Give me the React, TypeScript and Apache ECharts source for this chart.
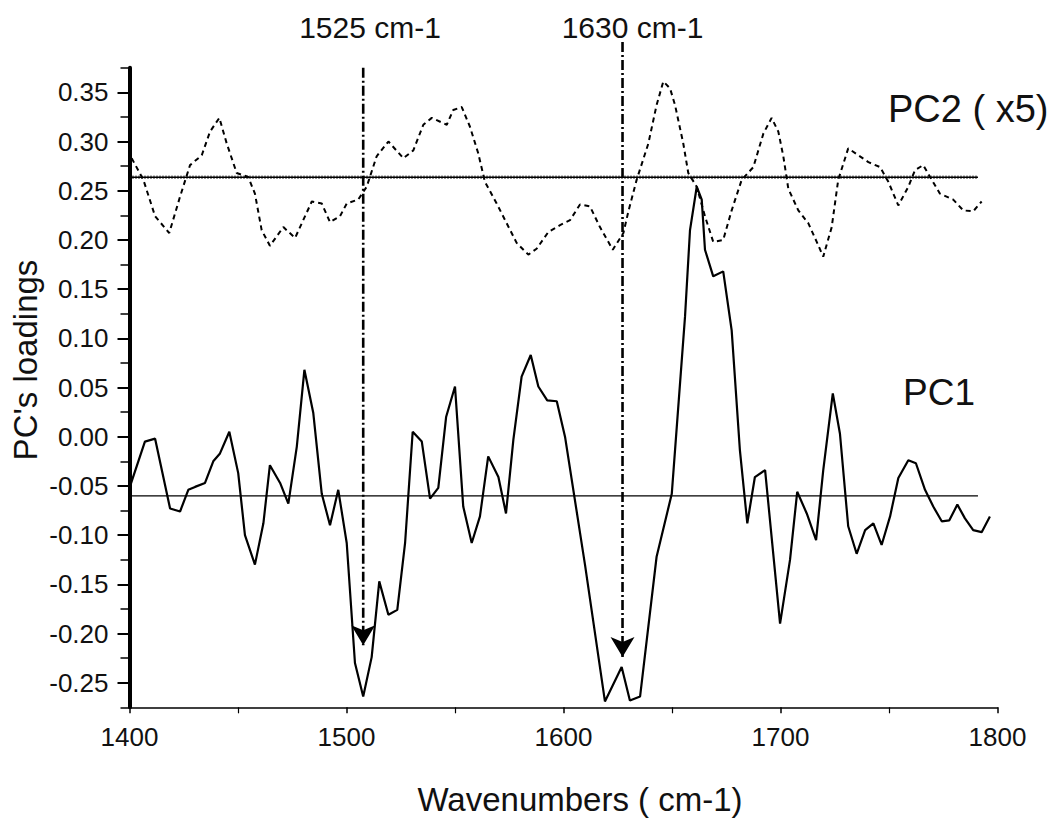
import React, { useEffect, useRef } from "react";
import * as echarts from "echarts";

// Wavenumbers (cm-1) and loadings
const pc1X = [1400, 1407.1, 1411.8, 1418.7, 1423.3, 1427.1, 1430.2, 1434.8, 1438.6, 1441.7, 1446.0, 1450.1, 1453.2, 1457.8, 1461.7, 1464.7, 1469.4, 1473.2, 1477.1, 1480.6, 1484.7, 1488.6, 1492.4, 1496.2, 1500.1, 1503.9, 1507.7, 1511.6, 1515.1, 1519.3, 1523.4, 1527.0, 1530.5, 1534.7, 1538.5, 1542.3, 1545.9, 1550.0, 1553.8, 1557.7, 1561.5, 1565.3, 1570.0, 1573.5, 1576.9, 1580.7, 1584.9, 1588.4, 1592.5, 1596.9, 1600.7, 1609.9, 1619.1, 1626.8, 1630.6, 1635.3, 1642.9, 1649.9, 1656.0, 1658.3, 1661.4, 1663.7, 1665.2, 1669.0, 1673.6, 1677.5, 1681.3, 1684.7, 1688.2, 1692.9, 1699.8, 1704.4, 1707.7, 1712.1, 1716.4, 1719.7, 1724.1, 1727.4, 1731.2, 1735.1, 1739.0, 1742.8, 1746.6, 1750.5, 1754.3, 1758.9, 1762.4, 1766.6, 1770.4, 1774.3, 1777.8, 1781.5, 1785.0, 1788.8, 1792.7, 1796.5];
const pc1Y = [-0.052, -0.005, -0.002, -0.073, -0.076, -0.054, -0.051, -0.047, -0.025, -0.017, 0.005, -0.037, -0.100, -0.130, -0.088, -0.029, -0.047, -0.068, -0.010, 0.068, 0.024, -0.058, -0.090, -0.054, -0.108, -0.230, -0.264, -0.224, -0.147, -0.181, -0.176, -0.108, 0.005, -0.005, -0.063, -0.052, 0.020, 0.051, -0.071, -0.108, -0.081, -0.020, -0.041, -0.078, -0.003, 0.061, 0.083, 0.051, 0.037, 0.036, 0.000, -0.130, -0.269, -0.234, -0.268, -0.264, -0.122, -0.058, 0.122, 0.210, 0.254, 0.241, 0.190, 0.163, 0.168, 0.108, -0.014, -0.088, -0.041, -0.034, -0.190, -0.125, -0.056, -0.078, -0.105, -0.034, 0.044, 0.003, -0.091, -0.119, -0.095, -0.088, -0.110, -0.081, -0.042, -0.024, -0.027, -0.054, -0.071, -0.086, -0.085, -0.069, -0.083, -0.095, -0.097, -0.081];

const pc2X = [1401.0, 1406.4, 1411.8, 1418.3, 1423.3, 1427.9, 1433.3, 1437.1, 1441.4, 1444.8, 1449.4, 1454.7, 1457.8, 1460.9, 1464.7, 1470.9, 1476.3, 1484.0, 1488.6, 1492.4, 1497.0, 1500.1, 1505.4, 1509.3, 1513.9, 1519.3, 1526.2, 1530.8, 1535.4, 1539.3, 1546.2, 1549.2, 1553.1, 1556.9, 1560.7, 1563.8, 1569.2, 1573.8, 1578.4, 1583.8, 1587.6, 1593.0, 1598.4, 1603.0, 1607.6, 1612.2, 1616.8, 1622.7, 1627.6, 1629.9, 1633.7, 1639.1, 1642.9, 1646.0, 1649.1, 1651.4, 1655.2, 1657.5, 1661.4, 1665.2, 1669.0, 1673.6, 1677.5, 1682.1, 1687.5, 1692.1, 1695.9, 1699.0, 1701.3, 1703.6, 1708.2, 1712.8, 1716.7, 1719.7, 1723.6, 1726.6, 1731.2, 1735.9, 1740.5, 1745.9, 1749.7, 1754.3, 1758.9, 1762.0, 1765.8, 1768.9, 1773.5, 1779.6, 1784.2, 1788.8, 1792.7];
const pc2Y = [0.283, 0.261, 0.224, 0.207, 0.244, 0.276, 0.286, 0.310, 0.324, 0.298, 0.268, 0.264, 0.247, 0.210, 0.194, 0.213, 0.202, 0.239, 0.237, 0.218, 0.224, 0.237, 0.241, 0.254, 0.285, 0.300, 0.283, 0.291, 0.317, 0.324, 0.317, 0.332, 0.335, 0.315, 0.288, 0.259, 0.237, 0.217, 0.197, 0.185, 0.191, 0.208, 0.215, 0.220, 0.236, 0.234, 0.213, 0.190, 0.207, 0.229, 0.261, 0.298, 0.337, 0.361, 0.354, 0.337, 0.298, 0.268, 0.254, 0.224, 0.198, 0.200, 0.230, 0.261, 0.274, 0.308, 0.324, 0.310, 0.285, 0.252, 0.230, 0.217, 0.198, 0.183, 0.213, 0.261, 0.293, 0.286, 0.279, 0.274, 0.259, 0.235, 0.254, 0.271, 0.276, 0.264, 0.247, 0.241, 0.230, 0.229, 0.239];

// Horizontal reference lines (PC2 baseline, PC1 baseline)
const baselineValues = [0.2636, -0.0602];
const baselineSpan = [1400, 1791];

// Marked bands: line position, top, arrow tip, label
const markerX = [1507.7, 1627.2];
const markerTop = [0.375, 0.401];
const markerTip = [-0.212, -0.224];
const markerLabels = ["1525 cm-1", "1630 cm-1"];

// Axis ticks
const yMajorTicks = [-0.25, -0.2, -0.15, -0.1, -0.05, 0, 0.05, 0.1, 0.15, 0.2, 0.25, 0.3, 0.35];
const yMinorTicks = [-0.275, -0.225, -0.175, -0.125, -0.075, -0.025, 0.025, 0.075, 0.125, 0.175, 0.225, 0.275, 0.325, 0.375];

const FONT = "'Liberation Sans', Arial, sans-serif";

export default function App() {
  const ref = useRef<HTMLDivElement>(null);

  useEffect(() => {
    if (!ref.current) return;
    const chart = echarts.init(ref.current, null, { renderer: "svg" });

    const pc1 = pc1X.map((x, i) => [x, pc1Y[i]]);
    const pc2 = pc2X.map((x, i) => [x, pc2Y[i]]);
    const base2 = baselineSpan.map((x) => [x, baselineValues[0]]);
    const base1 = baselineSpan.map((x) => [x, baselineValues[1]]);

    const markerSeries = markerX.map((x, i) => ({
      name: "marker " + markerLabels[i],
      type: "line",
      data: [
        [x, markerTop[i]],
        [x, markerTip[i]],
      ],
      symbol: "none",
      silent: true,
      clip: false,
      lineStyle: { color: "#000", width: 2.6, type: [10, 3, 2, 3] },
      z: 5,
      markPoint: {
        silent: true,
        symbol: "arrow",
        symbolSize: [18, 20],
        symbolRotate: 180,
        symbolOffset: [0, 0],
        label: { show: false },
        itemStyle: { color: "#000" },
        data: [{ coord: [x, markerTip[i]] }],
      },
    }));

    const option: any = {
      animation: false,
      backgroundColor: "#ffffff",
      grid: { left: 129.5, right: 62.5, top: 67.7, bottom: 114.7, containLabel: false },
      xAxis: {
        type: "value",
        min: 1400,
        max: 1800,
        interval: 100,
        axisLine: { show: true, onZero: false, lineStyle: { color: "#000", width: 1.6 } },
        axisTick: { show: true, length: 6, lineStyle: { color: "#000", width: 1.5 } },
        minorTick: { show: true, splitNumber: 2, length: 6, lineStyle: { color: "#000", width: 1.2 } },
        splitLine: { show: false },
        minorSplitLine: { show: false },
        axisLabel: {
          color: "#111",
          fontSize: 26,
          fontFamily: FONT,
          margin: 17,
          formatter: (v: number) => String(v),
        },
      },
      yAxis: [
        {
          type: "value",
          min: -0.275,
          max: 0.375,
          position: "left",
          axisLine: { show: true, onZero: false, lineStyle: { color: "#000", width: 4 } },
          axisTick: { show: true, length: 12, customValues: yMajorTicks, lineStyle: { color: "#000", width: 2 } },
          axisLabel: {
            customValues: yMajorTicks,
            formatter: (v: number) => v.toFixed(2),
            color: "#111",
            fontSize: 26,
            fontFamily: FONT,
            margin: 21,
          },
          splitLine: { show: false },
        },
        {
          type: "value",
          min: -0.275,
          max: 0.375,
          position: "left",
          axisLine: { show: false, onZero: false },
          axisTick: { show: true, length: 9, customValues: yMinorTicks, lineStyle: { color: "#000", width: 1.5 } },
          axisLabel: { show: false },
          splitLine: { show: false },
        },
      ],
      series: [
        {
          name: "PC2 baseline",
          type: "line",
          data: base2,
          symbol: "none",
          silent: true,
          lineStyle: { color: "#000", width: 1.5 },
          z: 2,
        },
        {
          name: "PC2 baseline dots",
          type: "line",
          data: base2,
          symbol: "none",
          silent: true,
          lineStyle: { color: "#000", width: 3.5, type: [1, 2], opacity: 0.85 },
          z: 2,
        },
        {
          name: "PC1 baseline",
          type: "line",
          data: base1,
          symbol: "none",
          silent: true,
          lineStyle: { color: "#000", width: 1.2 },
          z: 2,
        },
        {
          name: "PC2 (x5)",
          type: "line",
          data: pc2,
          symbol: "none",
          lineStyle: { color: "#000", width: 2, type: [5, 4] },
          z: 3,
        },
        {
          name: "PC1",
          type: "line",
          data: pc1,
          symbol: "none",
          lineStyle: { color: "#000", width: 2.2 },
          z: 4,
        },
        ...markerSeries,
      ],
      graphic: [
        ...markerLabels.map((t, i) => ({
          type: "text",
          x: i === 0 ? 370 : 632.5,
          y: 27.5,
          style: { text: t, fontSize: 30, fontFamily: FONT, fill: "#111", textAlign: "center", textVerticalAlign: "middle" },
        })),
        {
          type: "text",
          x: 888,
          y: 109,
          style: { text: "PC2 ( x5)", fontSize: 38, fontFamily: FONT, fill: "#111", textAlign: "left", textVerticalAlign: "middle" },
        },
        {
          type: "text",
          x: 903,
          y: 392,
          style: { text: "PC1", fontSize: 37, fontFamily: FONT, fill: "#111", textAlign: "left", textVerticalAlign: "middle" },
        },
        {
          type: "text",
          x: 25,
          y: 360,
          rotation: Math.PI / 2,
          style: { text: "PC's loadings", fontSize: 33, fontFamily: FONT, fill: "#111", textAlign: "center", textVerticalAlign: "middle" },
        },
        {
          type: "text",
          x: 580,
          y: 799,
          style: { text: "Wavenumbers ( cm-1)", fontSize: 33, fontFamily: FONT, fill: "#111", textAlign: "center", textVerticalAlign: "middle" },
        },
      ],
    };

    chart.setOption(option);
    return () => chart.dispose();
  }, []);

  return <div ref={ref} style={{ width: 1060, height: 822, position: "absolute", left: 0, top: 0 }} />;
}
